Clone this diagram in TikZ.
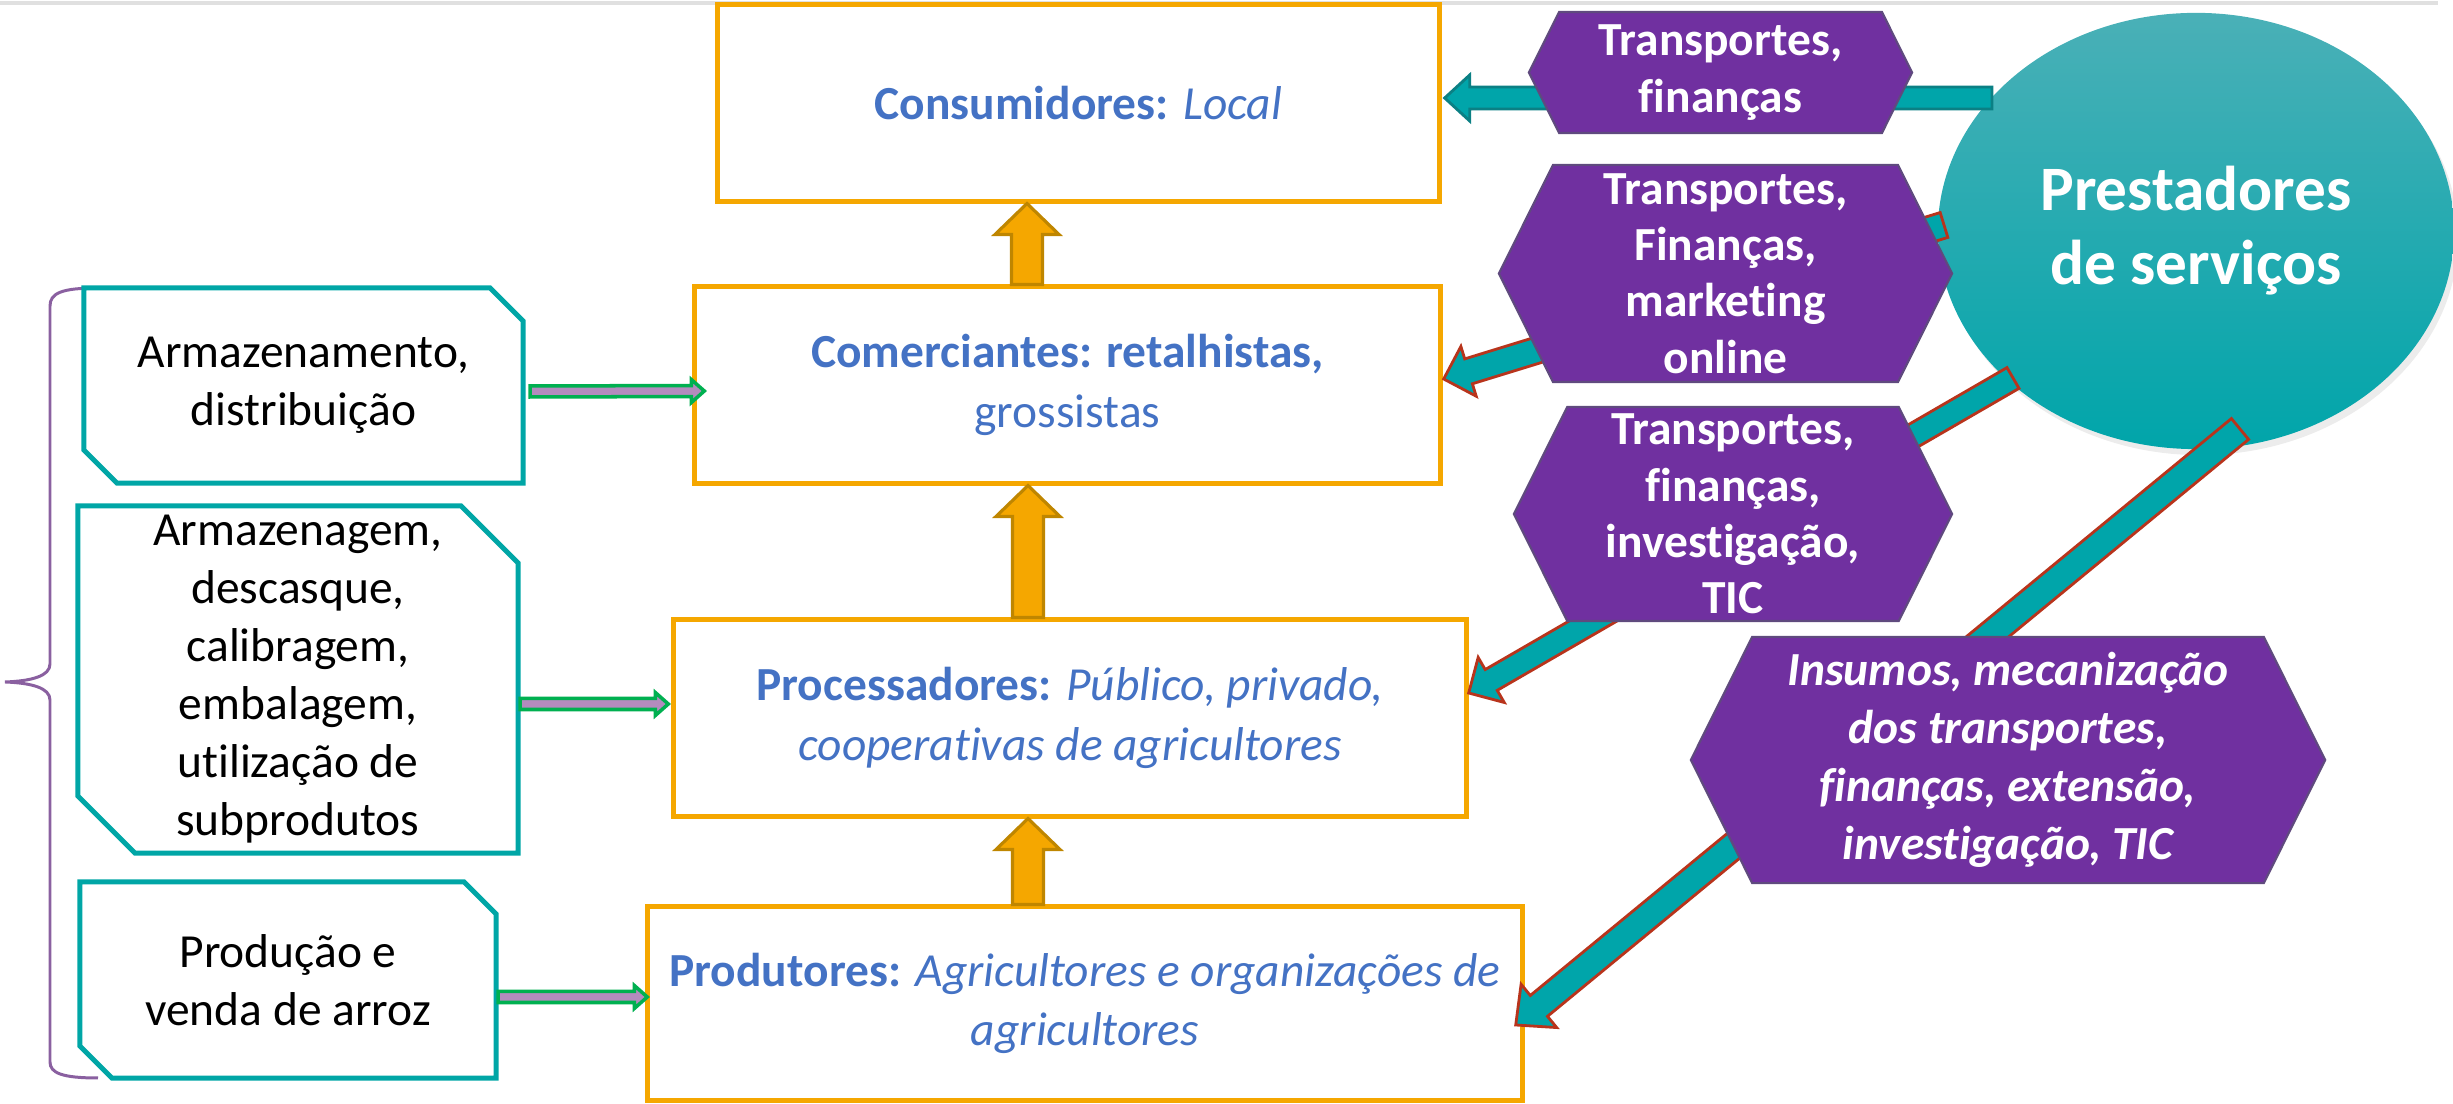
\documentclass[tikz,border=0pt]{standalone}
\usepackage{fontspec}
\setmainfont[Ligatures={TeX,NoCommon}]{Carlito}
\usetikzlibrary{calc,shapes.geometric,shapes.symbols,shadows}

\definecolor{stageorange}{HTML}{F5A700}
\definecolor{arrowedge}{HTML}{BF8600}
\definecolor{stageblue}{HTML}{4472C4}
\definecolor{taskteal}{HTML}{00A6A6}
\definecolor{servpurple}{HTML}{7030A0}
\definecolor{servedge}{HTML}{5F4A7E}
\definecolor{lilac}{HTML}{B48BBE}
\definecolor{lilacedge}{HTML}{00B050}
\definecolor{bracepurple}{HTML}{8A60A0}
\definecolor{teallight}{HTML}{4AB0B7}
\definecolor{tealdark}{HTML}{00A5AA}
\definecolor{linkred}{HTML}{B8341C}
\definecolor{linkteal}{HTML}{0B8084}

\tikzset{
  stage/.style={draw=stageorange, line width=1.4pt, text=stageblue, align=center,
    font=\fontsize{13.5}{17}\selectfont},
  task/.style={align=center, inner sep=0pt, outer sep=0pt, font=\fontsize{13.5}{16.5}\selectfont},
  snip/.style={draw=taskteal, line width=1.4pt},
  service/.style={signal, signal to=east and west, signal pointer angle=127, fill=servpurple,
    draw=servedge, line width=0.6pt, text=white, align=center, inner sep=0pt,
    font=\bfseries\fontsize{13.5}{16}\selectfont},
  provider/.style={ellipse, top color=teallight, bottom color=tealdark, text=white, align=center,
    drop shadow={shadow xshift=0.04cm, shadow yshift=-0.06cm, opacity=0.15},
    font=\bfseries\fontsize{18}{21}\selectfont},
  uparrow/.style={fill=stageorange, draw=arrowedge, line width=0.9pt},
  feedarrow/.style={fill=lilac, draw=lilacedge, line width=1pt},
  servarrow/.style={fill=tealdark, draw=linkred, line width=0.8pt},
  brace/.style={draw=bracepurple, line width=0.85pt},
  topline/.style={draw=black!12, line width=1.2pt}
}

% block arrow: style, tail, tip, half shaft, half head, head length
\newcommand{\blockarrow}[6]{%
  \filldraw[#1] ($(#2)!#4!90:(#3)$)
    -- ($(#3)!#6!(#2)!#4!-90:(#2)$)
    -- ($(#3)!#6!(#2)!#5!-90:(#2)$)
    -- (#3)
    -- ($(#3)!#6!(#2)!#5!90:(#2)$)
    -- ($(#3)!#6!(#2)!#4!90:(#2)$)
    -- ($(#2)!#4!-90:(#3)$) -- cycle;}

% frame with two cut corners round a task node
\newcommand{\snipframe}[2]{%
  \draw[snip] ([xshift=-#2]#1.north east) -- ([yshift=-#2]#1.north east) -- (#1.south east)
    -- ([xshift=#2]#1.south west) -- ([yshift=#2]#1.south west) -- (#1.north west) -- cycle;}

\begin{document}
\begin{tikzpicture}[x=0.01cm, y=-0.01cm]
  \useasboundingbox (0,0) rectangle (2453,1104);
  \draw[topline] (0,3) -- (2438,3);

  % brace
  \draw[brace] (98,288) .. controls (62,288) and (50,293) .. (50,306) -- (50,664)
    .. controls (50,676) and (32,681) .. (5,682) .. controls (32,683) and (50,688) .. (50,700)
    -- (50,1062) .. controls (50,1073) and (62,1078) .. (98,1078);

  % activities
  \node[task, minimum width=4.39cm, minimum height=1.95cm] (armaz) at (303.5,385.5)
    {Armazenamento,\\distribuição};
  \snipframe{armaz}{0.33cm}
  \node[task, minimum width=4.40cm, minimum height=3.47cm] (benef) at (298,679.5)
    {Armazenagem,\\descasque,\\calibragem,\\embalagem,\\utilização de\\subprodutos};
  \snipframe{benef}{0.57cm}
  \node[task, minimum width=4.16cm, minimum height=1.96cm] (venda) at (288,980)
    {Produção e\\venda de arroz};
  \snipframe{venda}{0.32cm}

  % chain
  \node[stage, minimum width=7.21cm, minimum height=1.96cm] (consum) at (1078.5,103)
    {\textbf{Consumidores:} \textit{Local}};
  \node[stage, minimum width=7.45cm, minimum height=1.96cm] (comerc) at (1067.5,385)
    {\textbf{Comerciantes: retalhistas,}\\grossistas};
  \node[stage, minimum width=7.92cm, minimum height=1.96cm] (proces) at (1070,718)
    {\textbf{Processadores:} \textit{Público, privado,}\\\textit{cooperativas de agricultores}};
  \node[stage, minimum width=8.74cm, minimum height=1.93cm] (produt) at (1085,1003.5)
    {\textbf{Produtores:} \textit{Agricultores e organizações de}\\\textit{agricultores}};

  \coordinate (up1t) at (1027,0 |- comerc.north);
  \coordinate (up1h) at (1027,0 |- consum.south);
  \coordinate (up2t) at (1028,0 |- proces.north);
  \coordinate (up2h) at (1028,0 |- comerc.south);
  \coordinate (up3t) at (1028,0 |- produt.north);
  \coordinate (up3h) at (1028,0 |- proces.south);
  \blockarrow{uparrow}{up1t}{up1h}{0.155cm}{0.32cm}{0.31cm}
  \blockarrow{uparrow}{up2t}{up2h}{0.155cm}{0.32cm}{0.31cm}
  \blockarrow{uparrow}{up3t}{up3h}{0.155cm}{0.32cm}{0.31cm}

  \coordinate (f1t) at ($(armaz.east)+(7,6)$);
  \coordinate (f1h) at ($(comerc.west)+(12,6)$);
  \coordinate (f2t) at ($(benef.east)+(2,24.5)$);
  \coordinate (f2h) at ($(proces.west)+(-3,-14)$);
  \coordinate (f3t) at ($(venda.east)+(2,17)$);
  \coordinate (f3h) at ($(produt.west)+(2,-6.5)$);
  \blockarrow{feedarrow}{f1t}{f1h}{0.055cm}{0.115cm}{0.13cm}
  \blockarrow{feedarrow}{f2t}{f2h}{0.055cm}{0.115cm}{0.13cm}
  \blockarrow{feedarrow}{f3t}{f3h}{0.055cm}{0.115cm}{0.13cm}

  % service providers
  \node[provider, minimum width=5.16cm, minimum height=4.36cm] (prest) at (2196,231)
    {Prestadores\\de serviços};

  \coordinate (s1) at ($(prest.center)+(-204,-133)$);
  \coordinate (k1) at ($(consum.east)+(3,-5)$);
  \coordinate (s2) at ($(prest.center)+(-252,-6)$);
  \coordinate (k2) at ($(comerc.east)+(1,-6)$);
  \coordinate (s3) at ($(prest.center)+(-183,147)$);
  \coordinate (k3) at ($(proces.east)+(0,-25)$);
  \coordinate (s4) at ($(prest.center)+(44,198)$);
  \coordinate (k4) at ($(produt.east)+(-9,21.5)$);
  \blockarrow{servarrow, draw=linkteal}{s1}{k1}{0.11cm}{0.23cm}{0.25cm}
  \blockarrow{servarrow}{s2}{k2}{0.13cm}{0.26cm}{0.26cm}
  \blockarrow{servarrow}{s3}{k3}{0.12cm}{0.26cm}{0.26cm}
  \blockarrow{servarrow}{s4}{k4}{0.135cm}{0.28cm}{0.30cm}

  \node[service, minimum width=3.83cm, minimum height=1.21cm] (serv1) at (1720.5,72.5)
    {Transportes,\\finanças};
  \node[service, minimum width=4.53cm, minimum height=2.17cm] (serv2) at (1725.5,273.5)
    {Transportes,\\Finanças,\\marketing\\online};
  \node[service, minimum width=4.38cm, minimum height=2.14cm] (serv3) at (1733,514)
    {Transportes,\\finanças,\\investigação,\\TIC};
  \node[service, font=\bfseries\itshape\fontsize{13.5}{16.5}\selectfont,
    minimum width=6.34cm, minimum height=2.46cm] (serv4) at (2008,760)
    {Insumos, mecanização\\dos transportes,\\finanças, extensão,\\investigação, TIC};
\end{tikzpicture}
\end{document}
